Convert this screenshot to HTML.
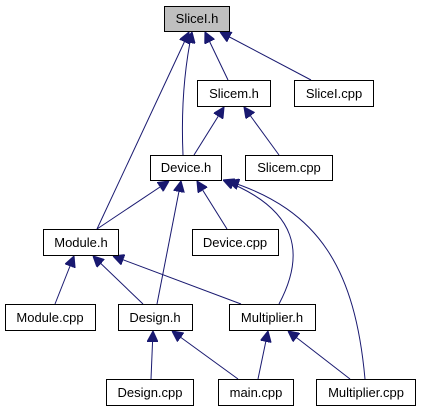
<!DOCTYPE html>
<html><head><meta charset="utf-8"><style>
html,body{margin:0;padding:0;background:#fff;}
svg{display:block;}
text{font-family:"Liberation Sans",Arial,sans-serif;font-size:13px;fill:#000;}
</style></head><body>
<svg width="421" height="411" viewBox="0 0 421 411" xmlns="http://www.w3.org/2000/svg">
<defs>
<marker id="a" viewBox="0 0 10 10" refX="10" refY="5" markerWidth="11" markerHeight="11" markerUnits="userSpaceOnUse" orient="auto">
<path d="M0,0 L10,5 L0,10 z" fill="#191970" stroke="#191970"/>
</marker>
</defs>
<g fill="none" stroke="#191970" stroke-width="1" marker-end="url(#a)">
<path d="M97,229 L189,32"/>
<path d="M183,155 C181,110 184,70 192,32"/>
<path d="M228,80 L205,32"/>
<path d="M311,80 L220,32"/>
<path d="M194,155 L224,107"/>
<path d="M279,155 L244,107"/>
<path d="M97,229 L169,181"/>
<path d="M157,304 L181,181"/>
<path d="M227,229 L197,181"/>
<path d="M279,304 C305,255 300,210 223,180"/>
<path d="M365,379 C355,270 320,210 228,181"/>
<path d="M55,304 L74,256"/>
<path d="M143,304 L93,256"/>
<path d="M241,304 L113,256"/>
<path d="M151,379 L153,331"/>
<path d="M238,379 L172,331"/>
<path d="M258,379 L268,331"/>
<path d="M350,379 L288,331"/>
</g>
<g stroke="#000" stroke-width="1">
<rect x="164.5" y="6.5" width="65" height="25" fill="#bfbfbf"/>
<rect x="197.5" y="80.5" width="73" height="26" fill="#fff"/>
<rect x="294.5" y="80.5" width="79" height="26" fill="#fff"/>
<rect x="150.5" y="155.5" width="71" height="25" fill="#fff"/>
<rect x="245.5" y="155.5" width="87" height="25" fill="#fff"/>
<rect x="43.5" y="229.5" width="75" height="26" fill="#fff"/>
<rect x="192.5" y="229.5" width="86" height="26" fill="#fff"/>
<rect x="5.5" y="304.5" width="90" height="26" fill="#fff"/>
<rect x="118.5" y="304.5" width="74" height="26" fill="#fff"/>
<rect x="229.5" y="304.5" width="86" height="26" fill="#fff"/>
<rect x="106.5" y="379.5" width="87" height="26" fill="#fff"/>
<rect x="218.5" y="379.5" width="75" height="26" fill="#fff"/>
<rect x="316.5" y="379.5" width="99" height="26" fill="#fff"/>
</g>
<g text-anchor="middle">
<text x="197" y="23">SliceI.h</text>
<text x="234" y="98">Slicem.h</text>
<text x="334" y="98">SliceI.cpp</text>
<text x="186" y="172">Device.h</text>
<text x="289" y="172">Slicem.cpp</text>
<text x="81" y="247">Module.h</text>
<text x="235" y="247">Device.cpp</text>
<text x="50" y="322">Module.cpp</text>
<text x="155" y="322">Design.h</text>
<text x="272" y="322">Multiplier.h</text>
<text x="150" y="397">Design.cpp</text>
<text x="256" y="397">main.cpp</text>
<text x="366" y="397">Multiplier.cpp</text>
</g>
</svg>
</body></html>
